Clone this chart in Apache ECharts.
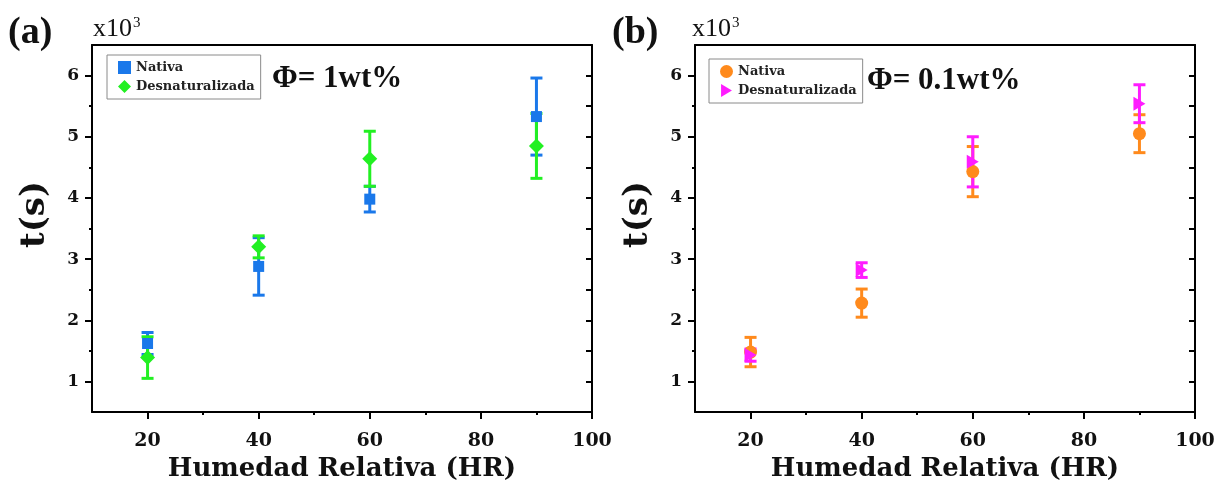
<!DOCTYPE html>
<html>
<head>
<meta charset="utf-8">
<script src="https://cdn.jsdelivr.net/npm/echarts@6/dist/echarts.min.js"></script>
<style>html,body{margin:0;padding:0;background:#fff;}#c{width:1225px;height:492px;}</style>
</head>
<body>
<div id="c"></div>
<script>
// ---- data (t in units of 10^3 s) ----
const hr = [20, 40, 60, 90];
const nativa1 = [1.62, 2.88, 3.98, 5.33];
const nativa1Err = [0.18, 0.47, 0.21, 0.63];
const desnat1 = [1.39, 3.20, 4.64, 4.85];
const desnat1Err = [0.34, 0.18, 0.45, 0.53];
const nativa01 = [1.48, 2.28, 4.43, 5.05];
const nativa01Err = [0.24, 0.23, 0.41, 0.31];
const desnat01 = [1.43, 2.82, 4.59, 5.54];
const desnat01Err = [0.10, 0.12, 0.41, 0.31];
const xMajor = [20, 40, 60, 80, 100];
const xMinor = [30, 50, 70, 90];
const yMajor = [1, 2, 3, 4, 5, 6];
const yMinor = [1.5, 2.5, 3.5, 4.5, 5.5];
const yAll = [1, 1.5, 2, 2.5, 3, 3.5, 4, 4.5, 5, 5.5, 6];

const SERIF = '"DejaVu Serif", serif';
const TIMES = '"Liberation Serif", serif';
const C_BLUE = '#1a78ea', C_GREEN = '#22f022', C_ORANGE = '#ff8a1c', C_MAG = '#ff1cff';

const chart = echarts.init(document.getElementById('c'), null, {renderer: 'canvas'});

const grids = [
  {left: 92, right: 633, top: 45, bottom: 80},
  {left: 695, right: 30, top: 45, bottom: 80}
];

function xAxes(g) {
  return [
    {gridIndex: g, type: 'value', min: 10, max: 100, position: 'bottom',
     axisLine: {show: true, lineStyle: {color: '#000', width: 2}},
     axisTick: {show: true, customValues: xMajor, length: 7, lineStyle: {color: '#000', width: 2}},
     axisLabel: {customValues: xMajor, margin: 20, color: '#111', fontFamily: SERIF, fontWeight: 'bold', fontSize: 19},
     splitLine: {show: false},
     name: 'Humedad Relativa (HR)', nameLocation: 'middle', nameGap: 44,
     nameTextStyle: {color: '#111', fontFamily: SERIF, fontWeight: 'bold', fontSize: 26}},
    {gridIndex: g, type: 'value', min: 10, max: 100, position: 'bottom',
     axisLine: {show: false},
     axisTick: {show: true, customValues: xMinor, length: 3, lineStyle: {color: '#000', width: 2}},
     axisLabel: {show: false}, splitLine: {show: false}},
    {gridIndex: g, type: 'value', min: 10, max: 100, position: 'top',
     axisLine: {show: true, lineStyle: {color: '#000', width: 2}},
     axisTick: {show: false}, axisLabel: {show: false}, splitLine: {show: false}}
  ];
}
function yAxes(g) {
  return [
    {gridIndex: g, type: 'value', min: 0.5, max: 6.5, position: 'left',
     axisLine: {show: true, lineStyle: {color: '#000', width: 2}},
     axisTick: {show: true, customValues: yMajor, length: 7, lineStyle: {color: '#000', width: 2}},
     axisLabel: {customValues: yMajor, margin: 13, color: '#111', fontFamily: SERIF, fontWeight: 'bold', fontSize: 17},
     splitLine: {show: false},
     name: 't(s)', nameLocation: 'middle', nameGap: 40, nameRotate: 90,
     nameTextStyle: {color: '#111', fontFamily: SERIF, fontWeight: 'bold', fontSize: 34, padding: [0, 0, 0, 28]}},
    {gridIndex: g, type: 'value', min: 0.5, max: 6.5, position: 'left',
     axisLine: {show: false},
     axisTick: {show: true, customValues: yMinor, length: 3, lineStyle: {color: '#000', width: 2}},
     axisLabel: {show: false}, splitLine: {show: false}},
    {gridIndex: g, type: 'value', min: 0.5, max: 6.5, position: 'right',
     axisLine: {show: true, lineStyle: {color: '#000', width: 2}},
     axisTick: {show: true, inside: true, customValues: yAll, length: 6, lineStyle: {color: '#000', width: 2}},
     axisLabel: {show: false}, splitLine: {show: false}}
  ];
}

function errSeries(name, xi, yi, vals, errs, color) {
  return {
    type: 'custom', name: name, xAxisIndex: xi, yAxisIndex: yi, silent: true,
    data: hr.map((x, i) => [x, vals[i] - errs[i], vals[i] + errs[i]]),
    encode: {x: 0, y: [1, 2]},
    renderItem: function (params, api) {
      const x = api.value(0);
      const lo = api.coord([x, api.value(1)]);
      const hi = api.coord([x, api.value(2)]);
      const w = 6;
      const st = {stroke: color, lineWidth: 3};
      return {type: 'group', children: [
        {type: 'line', shape: {x1: lo[0], y1: lo[1], x2: hi[0], y2: hi[1]}, style: st},
        {type: 'line', shape: {x1: lo[0] - w, y1: lo[1], x2: lo[0] + w, y2: lo[1]}, style: st},
        {type: 'line', shape: {x1: hi[0] - w, y1: hi[1], x2: hi[0] + w, y2: hi[1]}, style: st}
      ]};
    }
  };
}
function scatter(name, xi, yi, vals, color, symbol, size) {
  return {type: 'scatter', name: name, xAxisIndex: xi, yAxisIndex: yi,
    data: hr.map((x, i) => [x, vals[i]]), symbol: symbol, symbolSize: size,
    itemStyle: {color: color, opacity: 1}};
}

const legendText = {fontFamily: SERIF, fontWeight: 'bold', fontSize: 13, color: '#222'};
function legend(left, top, names) {
  return {left: left, top: top, orient: 'vertical', data: names,
    formatter: n => n.split('|')[0],
    borderColor: '#8a8a8a', borderWidth: 1, borderRadius: 0,
    padding: [6, 6, 6, 11], itemGap: 6, itemWidth: 13, itemHeight: 13,
    textStyle: legendText, selectedMode: false};
}

const option = {
  animation: false,
  backgroundColor: '#fff',
  grid: grids,
  xAxis: [...xAxes(0), ...xAxes(1)],
  yAxis: [...yAxes(0), ...yAxes(1)],
  legend: [
    legend(107, 55, ['Nativa|a', 'Desnaturalizada|a']),
    legend(709, 59, ['Nativa|b', 'Desnaturalizada|b'])
  ],
  series: [
    errSeries('eNa', 0, 0, nativa1, nativa1Err, C_BLUE),
    scatter('Nativa|a', 0, 0, nativa1, C_BLUE, 'rect', 11),
    errSeries('eDa', 0, 0, desnat1, desnat1Err, C_GREEN),
    scatter('Desnaturalizada|a', 0, 0, desnat1, C_GREEN, 'diamond', 15),
    errSeries('eNb', 3, 3, nativa01, nativa01Err, C_ORANGE),
    scatter('Nativa|b', 3, 3, nativa01, C_ORANGE, 'circle', 13),
    errSeries('eDb', 3, 3, desnat01, desnat01Err, C_MAG),
    scatter('Desnaturalizada|b', 3, 3, desnat01, C_MAG, 'path://M0,0 L10,6 L0,12 Z', [12, 14])
  ],
  graphic: [
    {type: 'text', left: 8, top: 14, style: {text: '(a)', font: 'bold 38px ' + TIMES, fill: '#111'}},
    {type: 'text', left: 612, top: 14, style: {text: '(b)', font: 'bold 38px ' + TIMES, fill: '#111'}},
    {type: 'text', left: 93, top: 16, style: {text: 'x10{s|3}', font: '26px ' + TIMES, fill: '#111',
      rich: {s: {font: '15px ' + TIMES, fill: '#111', verticalAlign: 'top', padding: [0, 0, 12, 1]}}}},
    {type: 'text', left: 692, top: 16, style: {text: 'x10{s|3}', font: '26px ' + TIMES, fill: '#111',
      rich: {s: {font: '15px ' + TIMES, fill: '#111', verticalAlign: 'top', padding: [0, 0, 12, 1]}}}},
    {type: 'text', left: 272, top: 63, style: {text: 'Φ= 1wt%', font: 'bold 31px ' + TIMES, fill: '#111'}},
    {type: 'text', left: 867, top: 65, style: {text: 'Φ= 0.1wt%', font: 'bold 31px ' + TIMES, fill: '#111'}}
  ]
};
chart.setOption(option);
</script>
</body>
</html>
